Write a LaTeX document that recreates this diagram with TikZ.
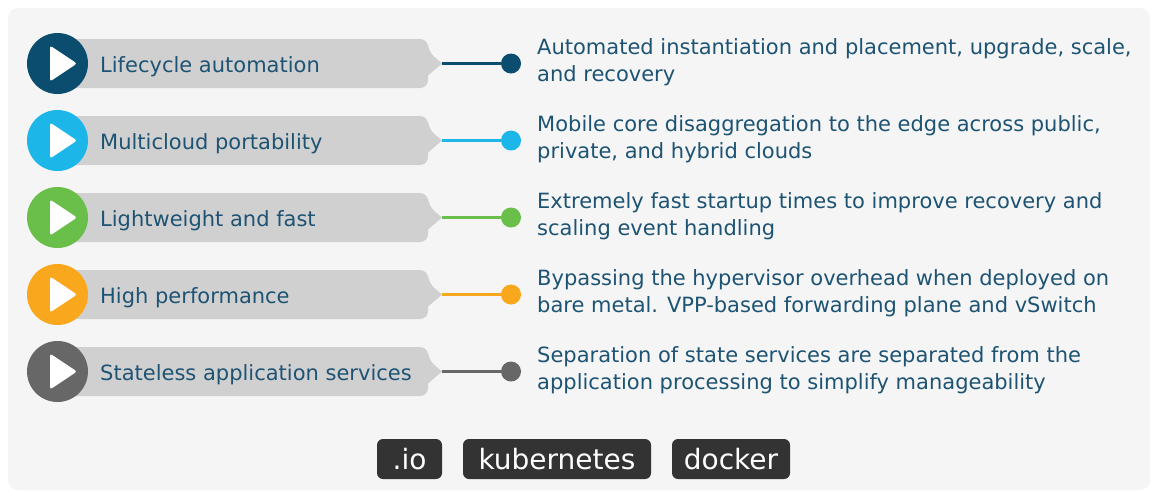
\documentclass[tikz,border=0pt]{standalone}
\usepackage{fontspec}
\setmainfont{DejaVu Sans}

\definecolor{panelbg}{HTML}{F5F5F5}
\definecolor{barfill}{HTML}{D1D0D1}
\definecolor{inktext}{HTML}{1D5373}
\definecolor{tagfill}{HTML}{333333}
\definecolor{cA}{HTML}{0B4D6F}
\definecolor{cB}{HTML}{1DB6E9}
\definecolor{cC}{HTML}{6ABF4B}
\definecolor{cD}{HTML}{F9A71C}
\definecolor{cE}{HTML}{676767}

\tikzset{
  badge/.style={circle, fill=#1, minimum size=61pt, inner sep=0pt},
  enddot/.style={circle, fill=#1, minimum size=20pt, inner sep=0pt},
  link/.style={draw=#1, line width=2.4pt},
  featlabel/.style={anchor=base west, inner sep=0pt, text=inktext,
    font=\fontsize{21}{21}\selectfont},
  featdesc/.style={anchor=base west, inner sep=0pt, text=inktext, align=left,
    font=\fontsize{21}{27}\selectfont},
  tag/.style={fill=tagfill, rounded corners=6pt, text=white, inner sep=0pt,
    minimum height=40pt, font=\fontsize{28}{28}\selectfont},
}

% #1 name, #2 centre y, #3 colour, #4 label, #5 description
% (the description node is anchored on the baseline of its last line)
\newcommand\featurerow[5]{%
  \fill[barfill, rounded corners=8pt]
    (60,#2-24.5) -- (428,#2-24.5) -- (428,#2-12)
    [sharp corners] -- (442,#2) -- (428,#2+12)
    [rounded corners=8pt] -- (428,#2+24.5) -- (60,#2+24.5) -- cycle;
  \coordinate (t#1) at (442,#2);
  \node[badge=#3] (c#1) at (57.5,#2) {};
  \fill[white, rounded corners=2.5pt]
    ([xshift=-7.5pt,yshift=18pt]c#1.center) -- ([xshift=19.5pt]c#1.center)
    -- ([xshift=-7.5pt,yshift=-18pt]c#1.center) -- cycle;
  \node[enddot=#3] (d#1) at (511,#2) {};
  \draw[link=#3] (t#1) -- (d#1);
  \node[featlabel] (l#1) at (100,#2+8.5) {#4};
  \node[featdesc] (s#1) at (537,#2+17.5) {#5};
}

\begin{document}
\begin{tikzpicture}[x=1pt,y=-1pt]
  \useasboundingbox (0,0) rectangle (1153,491);
  \fill[white] (0,0) rectangle (1153,491);
  \fill[panelbg, rounded corners=10pt] (8,8) rectangle (1150,490);

  \featurerow{1}{63.5}{cA}{Lifecycle automation}
    {Automated instantiation and placement, upgrade, scale,\\and recovery}
  \featurerow{2}{140.5}{cB}{Multicloud portability}
    {Mobile core disaggregation to the edge across public,\\private, and hybrid clouds}
  \featurerow{3}{217.5}{cC}{Lightweight and fast}
    {Extremely fast startup times to improve recovery and\\scaling event handling}
  \featurerow{4}{294.5}{cD}{High performance}
    {Bypassing the hypervisor overhead when deployed on\\bare metal. VPP-based forwarding plane and vSwitch}
  \featurerow{5}{371.5}{cE}{Stateless application services}
    {Separation of state services are separated from the\\application processing to simplify manageability}

  \node[tag, minimum width=65pt] (io) at (409.5,459) {.io};
  \node[tag, minimum width=188pt] (k8s) at (557,459) {kubernetes};
  \node[tag, minimum width=118pt] (dock) at (731,459) {docker};
\end{tikzpicture}
\end{document}
